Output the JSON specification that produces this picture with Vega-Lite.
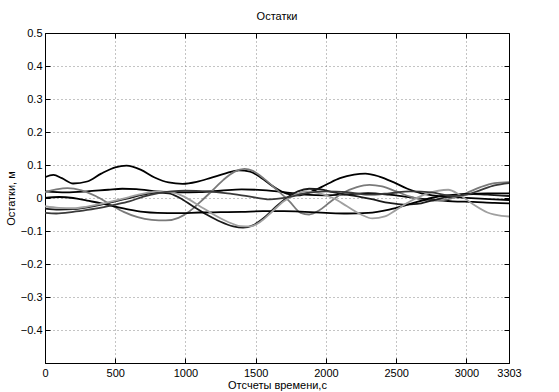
{
  "$schema": "https://vega.github.io/schema/vega-lite/v6.json",
  "autosize": "none",
  "width": 464,
  "height": 330,
  "padding": {"left": 45, "top": 33, "right": 50, "bottom": 29},
  "background": "white",
  "title": {"text": "Остатки", "font": "Liberation Sans", "fontSize": 11, "fontWeight": "normal", "color": "black", "offset": 5},
  "config": {
    "view": {"stroke": "black", "strokeWidth": 1},
    "axis": {
      "labelFont": "Liberation Sans", "labelFontSize": 11, "labelColor": "black",
      "titleFont": "Liberation Sans", "titleFontSize": 11, "titleFontWeight": "normal", "titleColor": "black",
      "domainColor": "black", "tickColor": "black", "grid": true, "gridDash": [1, 3], "gridColor": "#888", "gridOpacity": 1
    }
  },
  "data": {"values": [
    {"s":"A","x":0,"y":0.063},{"s":"A","x":60,"y":0.07},{"s":"A","x":120,"y":0.06},{"s":"A","x":200,"y":0.044},{"s":"A","x":300,"y":0.05},{"s":"A","x":400,"y":0.074},{"s":"A","x":500,"y":0.093},{"s":"A","x":580,"y":0.098},{"s":"A","x":680,"y":0.086},{"s":"A","x":780,"y":0.062},{"s":"A","x":880,"y":0.047},{"s":"A","x":980,"y":0.043},{"s":"A","x":1080,"y":0.049},{"s":"A","x":1180,"y":0.061},{"s":"A","x":1280,"y":0.074},{"s":"A","x":1380,"y":0.084},{"s":"A","x":1460,"y":0.08},{"s":"A","x":1540,"y":0.061},{"s":"A","x":1620,"y":0.036},{"s":"A","x":1720,"y":0.013},{"s":"A","x":1800,"y":0.008},{"s":"A","x":1900,"y":0.02},{"s":"A","x":2000,"y":0.04},{"s":"A","x":2100,"y":0.06},{"s":"A","x":2200,"y":0.071},{"s":"A","x":2280,"y":0.074},{"s":"A","x":2380,"y":0.065},{"s":"A","x":2480,"y":0.048},{"s":"A","x":2580,"y":0.028},{"s":"A","x":2680,"y":0.014},{"s":"A","x":2800,"y":0.006},{"s":"A","x":2950,"y":0.002},{"s":"A","x":3100,"y":-0.002},{"s":"A","x":3200,"y":-0.004},{"s":"A","x":3303,"y":-0.006},
    {"s":"B","x":0,"y":0.02},{"s":"B","x":150,"y":0.017},{"s":"B","x":300,"y":0.02},{"s":"B","x":450,"y":0.025},{"s":"B","x":550,"y":0.028},{"s":"B","x":650,"y":0.027},{"s":"B","x":800,"y":0.02},{"s":"B","x":950,"y":0.017},{"s":"B","x":1100,"y":0.018},{"s":"B","x":1250,"y":0.022},{"s":"B","x":1400,"y":0.026},{"s":"B","x":1550,"y":0.024},{"s":"B","x":1700,"y":0.018},{"s":"B","x":1850,"y":0.01},{"s":"B","x":2000,"y":0.008},{"s":"B","x":2150,"y":0.011},{"s":"B","x":2300,"y":0.015},{"s":"B","x":2450,"y":0.01},{"s":"B","x":2600,"y":0.002},{"s":"B","x":2750,"y":-0.005},{"s":"B","x":2900,"y":-0.01},{"s":"B","x":3050,"y":-0.012},{"s":"B","x":3200,"y":-0.015},{"s":"B","x":3303,"y":-0.016},
    {"s":"C","x":0,"y":0.018},{"s":"C","x":80,"y":0.026},{"s":"C","x":160,"y":0.03},{"s":"C","x":260,"y":0.023},{"s":"C","x":360,"y":0.006},{"s":"C","x":460,"y":-0.018},{"s":"C","x":560,"y":-0.042},{"s":"C","x":660,"y":-0.058},{"s":"C","x":760,"y":-0.066},{"s":"C","x":860,"y":-0.068},{"s":"C","x":950,"y":-0.06},{"s":"C","x":1030,"y":-0.04},{"s":"C","x":1110,"y":-0.01},{"s":"C","x":1190,"y":0.022},{"s":"C","x":1270,"y":0.055},{"s":"C","x":1350,"y":0.08},{"s":"C","x":1420,"y":0.088},{"s":"C","x":1480,"y":0.082},{"s":"C","x":1560,"y":0.058},{"s":"C","x":1650,"y":0.025},{"s":"C","x":1740,"y":-0.01},{"s":"C","x":1820,"y":-0.045},{"s":"C","x":1880,"y":-0.05},{"s":"C","x":1950,"y":-0.038},{"s":"C","x":2030,"y":-0.012},{"s":"C","x":2120,"y":0.015},{"s":"C","x":2220,"y":0.033},{"s":"C","x":2310,"y":0.04},{"s":"C","x":2400,"y":0.035},{"s":"C","x":2500,"y":0.02},{"s":"C","x":2600,"y":0.004},{"s":"C","x":2700,"y":-0.006},{"s":"C","x":2800,"y":-0.008},{"s":"C","x":2900,"y":0.0},{"s":"C","x":3000,"y":0.015},{"s":"C","x":3100,"y":0.033},{"s":"C","x":3200,"y":0.045},{"s":"C","x":3303,"y":0.048},
    {"s":"D","x":0,"y":-0.032},{"s":"D","x":100,"y":-0.035},{"s":"D","x":200,"y":-0.034},{"s":"D","x":300,"y":-0.028},{"s":"D","x":400,"y":-0.02},{"s":"D","x":500,"y":-0.01},{"s":"D","x":600,"y":0.0},{"s":"D","x":700,"y":0.01},{"s":"D","x":800,"y":0.016},{"s":"D","x":880,"y":0.014},{"s":"D","x":960,"y":0.0},{"s":"D","x":1050,"y":-0.024},{"s":"D","x":1150,"y":-0.05},{"s":"D","x":1250,"y":-0.072},{"s":"D","x":1340,"y":-0.086},{"s":"D","x":1410,"y":-0.09},{"s":"D","x":1480,"y":-0.083},{"s":"D","x":1560,"y":-0.06},{"s":"D","x":1640,"y":-0.028},{"s":"D","x":1720,"y":0.0},{"s":"D","x":1800,"y":0.02},{"s":"D","x":1880,"y":0.028},{"s":"D","x":1960,"y":0.026},{"s":"D","x":2050,"y":0.018},{"s":"D","x":2150,"y":0.01},{"s":"D","x":2250,"y":0.003},{"s":"D","x":2350,"y":-0.006},{"s":"D","x":2450,"y":-0.015},{"s":"D","x":2550,"y":-0.02},{"s":"D","x":2650,"y":-0.018},{"s":"D","x":2750,"y":-0.008},{"s":"D","x":2850,"y":0.002},{"s":"D","x":2950,"y":0.01},{"s":"D","x":3050,"y":0.012},{"s":"D","x":3150,"y":0.01},{"s":"D","x":3250,"y":0.007},{"s":"D","x":3303,"y":0.006},
    {"s":"E","x":0,"y":0.0},{"s":"E","x":100,"y":0.003},{"s":"E","x":200,"y":0.0},{"s":"E","x":300,"y":-0.008},{"s":"E","x":400,"y":-0.016},{"s":"E","x":500,"y":-0.026},{"s":"E","x":600,"y":-0.035},{"s":"E","x":700,"y":-0.042},{"s":"E","x":800,"y":-0.045},{"s":"E","x":950,"y":-0.046},{"s":"E","x":1100,"y":-0.044},{"s":"E","x":1250,"y":-0.043},{"s":"E","x":1400,"y":-0.042},{"s":"E","x":1550,"y":-0.04},{"s":"E","x":1700,"y":-0.04},{"s":"E","x":1850,"y":-0.042},{"s":"E","x":2000,"y":-0.045},{"s":"E","x":2150,"y":-0.047},{"s":"E","x":2300,"y":-0.045},{"s":"E","x":2450,"y":-0.035},{"s":"E","x":2600,"y":-0.018},{"s":"E","x":2750,"y":0.0},{"s":"E","x":2850,"y":0.008},{"s":"E","x":2950,"y":0.011},{"s":"E","x":3050,"y":0.013},{"s":"E","x":3150,"y":0.014},{"s":"E","x":3303,"y":0.014},
    {"s":"F","x":0,"y":-0.025},{"s":"F","x":100,"y":-0.03},{"s":"F","x":200,"y":-0.031},{"s":"F","x":300,"y":-0.026},{"s":"F","x":400,"y":-0.018},{"s":"F","x":500,"y":-0.008},{"s":"F","x":600,"y":0.003},{"s":"F","x":700,"y":0.013},{"s":"F","x":800,"y":0.02},{"s":"F","x":900,"y":0.018},{"s":"F","x":1000,"y":0.002},{"s":"F","x":1100,"y":-0.024},{"s":"F","x":1200,"y":-0.05},{"s":"F","x":1300,"y":-0.072},{"s":"F","x":1390,"y":-0.085},{"s":"F","x":1460,"y":-0.086},{"s":"F","x":1540,"y":-0.07},{"s":"F","x":1620,"y":-0.04},{"s":"F","x":1700,"y":-0.01},{"s":"F","x":1780,"y":0.01},{"s":"F","x":1860,"y":0.02},{"s":"F","x":1950,"y":0.015},{"s":"F","x":2050,"y":0.0},{"s":"F","x":2150,"y":-0.025},{"s":"F","x":2250,"y":-0.05},{"s":"F","x":2330,"y":-0.062},{"s":"F","x":2420,"y":-0.056},{"s":"F","x":2500,"y":-0.036},{"s":"F","x":2600,"y":-0.01},{"s":"F","x":2700,"y":0.01},{"s":"F","x":2800,"y":0.022},{"s":"F","x":2870,"y":0.025},{"s":"F","x":2950,"y":0.01},{"s":"F","x":3050,"y":-0.02},{"s":"F","x":3150,"y":-0.044},{"s":"F","x":3250,"y":-0.054},{"s":"F","x":3303,"y":-0.056},
    {"s":"G","x":0,"y":-0.045},{"s":"G","x":80,"y":-0.047},{"s":"G","x":200,"y":-0.042},{"s":"G","x":300,"y":-0.036},{"s":"G","x":400,"y":-0.029},{"s":"G","x":500,"y":-0.02},{"s":"G","x":600,"y":-0.01},{"s":"G","x":700,"y":0.004},{"s":"G","x":800,"y":0.014},{"s":"G","x":900,"y":0.02},{"s":"G","x":1000,"y":0.022},{"s":"G","x":1150,"y":0.02},{"s":"G","x":1300,"y":0.014},{"s":"G","x":1450,"y":0.005},{"s":"G","x":1600,"y":-0.004},{"s":"G","x":1750,"y":0.004},{"s":"G","x":1850,"y":0.014},{"s":"G","x":2000,"y":0.02},{"s":"G","x":2150,"y":0.018},{"s":"G","x":2300,"y":0.01},{"s":"G","x":2450,"y":0.014},{"s":"G","x":2600,"y":0.02},{"s":"G","x":2750,"y":0.017},{"s":"G","x":2900,"y":0.006},{"s":"G","x":3000,"y":0.01},{"s":"G","x":3100,"y":0.024},{"s":"G","x":3200,"y":0.038},{"s":"G","x":3303,"y":0.045}
  ]},
  "resolve": {"axis": {"x": "independent", "y": "independent"}},
  "layer": [
    {
      "mark": {"type": "line", "interpolate": "monotone", "strokeWidth": 1.8, "clip": true},
      "encoding": {
        "x": {"field": "x", "type": "quantitative", "scale": {"domain": [0, 3303], "nice": false, "zero": false},
              "axis": {"title": "Отсчеты времени,с", "format": "d", "values": [0,500,1000,1500,2000,2500,3000,3303], "tickSize": -5, "labelPadding": 9, "titlePadding": 1, "labelFlush": false}},
        "y": {"field": "y", "type": "quantitative", "scale": {"domain": [-0.5, 0.5], "nice": false},
              "axis": {"title": "Остатки, м", "values": [-0.4,-0.3,-0.2,-0.1,0,0.1,0.2,0.3,0.4,0.5], "labelExpr": "datum.value == 0 ? '0' : format(datum.value, '.1f')", "tickSize": -5, "labelPadding": 8, "titlePadding": 4}},
        "color": {"field": "s", "type": "nominal", "legend": null,
                  "scale": {"domain": ["A","B","C","D","E","F","G"], "range": ["#000000","#000000","#7a7a7a","#1a1a1a","#000000","#a0a0a0","#3a3a3a"]}}
      }
    },
    {
      "mark": {"type": "line", "strokeOpacity": 0},
      "encoding": {
        "x": {"field": "x", "type": "quantitative", "axis": {"orient": "top", "title": null, "labels": false, "grid": false, "values": [500,1000,1500,2000,2500,3000], "tickSize": -5}},
        "y": {"field": "y", "type": "quantitative", "axis": {"orient": "right", "title": null, "labels": false, "grid": false, "values": [-0.4,-0.3,-0.2,-0.1,0,0.1,0.2,0.3,0.4], "tickSize": -5}},
        "detail": {"field": "s"}
      }
    }
  ]
}
